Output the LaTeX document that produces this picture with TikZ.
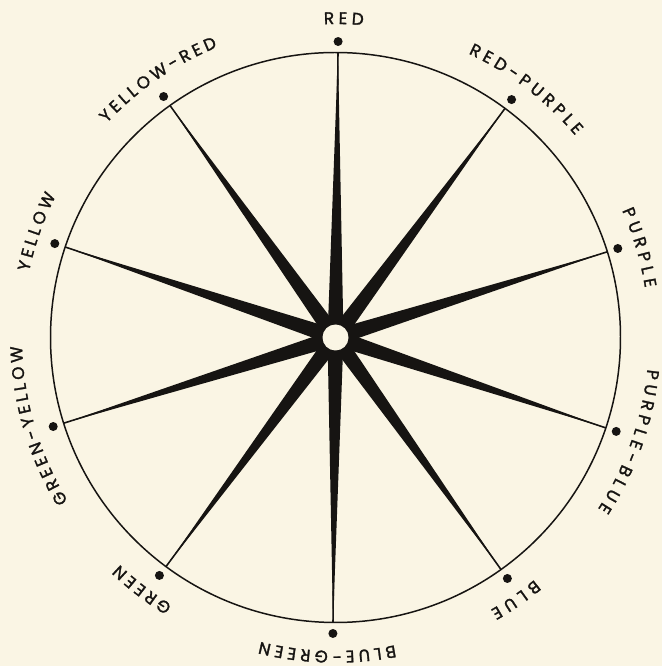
\documentclass[tikz,border=0pt]{standalone}
\usepackage{fontspec}
\usepackage{tikz}
\usetikzlibrary{decorations.text}
\newfontfamily\lblfont[FakeBold=1.6]{Poppins}
\definecolor{paper}{RGB}{250,245,228}
\definecolor{ink}{RGB}{22,20,18}

% label set along the outer arc, #1 angle, #2 half span, #3 text
\newcommand{\wheellabel}[3]{%
  \path[decorate, decoration={text along path, text align=fit to path,
        text color=ink, text={|\lblfont\fontsize{9.6}{10}\selectfont|#3}}]
    (#1-1+#2:6.27) arc[start angle=#1-1+#2, end angle=#1-1-#2, radius=6.27];}

\begin{document}
\begin{tikzpicture}[
  rim/.style={draw=ink, line width=0.85pt},
  spoke/.style={fill=ink},
  spokeline/.style={draw=ink, line width=0.9pt},
  dot/.style={fill=ink}
]
  \fill[paper] (-6.71,-6.57) rectangle (6.53,6.75);
  \useasboundingbox (-6.71,-6.57) rectangle (6.53,6.75);

  \begin{scope}[rotate=-0.5]
  \coordinate (hub) at (0,0);
  \draw[rim] (hub) circle (5.70);

  % spokes and dots
  \foreach \a [count=\i] in {90,54,18,-18,-54,-90,-126,-162,-198,-234} {
    \coordinate (tip-\i) at (\a:5.70);
    \fill[spoke] (\a+90:0.16) -- (tip-\i) -- (\a-90:0.16) -- cycle;
    \draw[spokeline] (hub) -- (tip-\i);
    \fill[dot] (\a:5.92) circle (0.09);
  }
  \fill[paper] (hub) circle (0.26);

  % colour names
  \wheellabel{90}{3.6}{RED}
  \wheellabel{54}{12.41}{RED-PURPLE}
  \wheellabel{18}{7.40}{PURPLE}
  \wheellabel{-18}{13.69}{PURPLE-BLUE}
  \wheellabel{-54}{4.90}{BLUE}
  \wheellabel{-90}{12.41}{BLUE-GREEN}
  \wheellabel{-126}{6.10}{GREEN}
  \wheellabel{-162}{14.96}{GREEN-YELLOW}
  \wheellabel{-198}{7.40}{YELLOW}
  \wheellabel{-234}{12.41}{YELLOW-RED}
  \end{scope}
\end{tikzpicture}
\end{document}
